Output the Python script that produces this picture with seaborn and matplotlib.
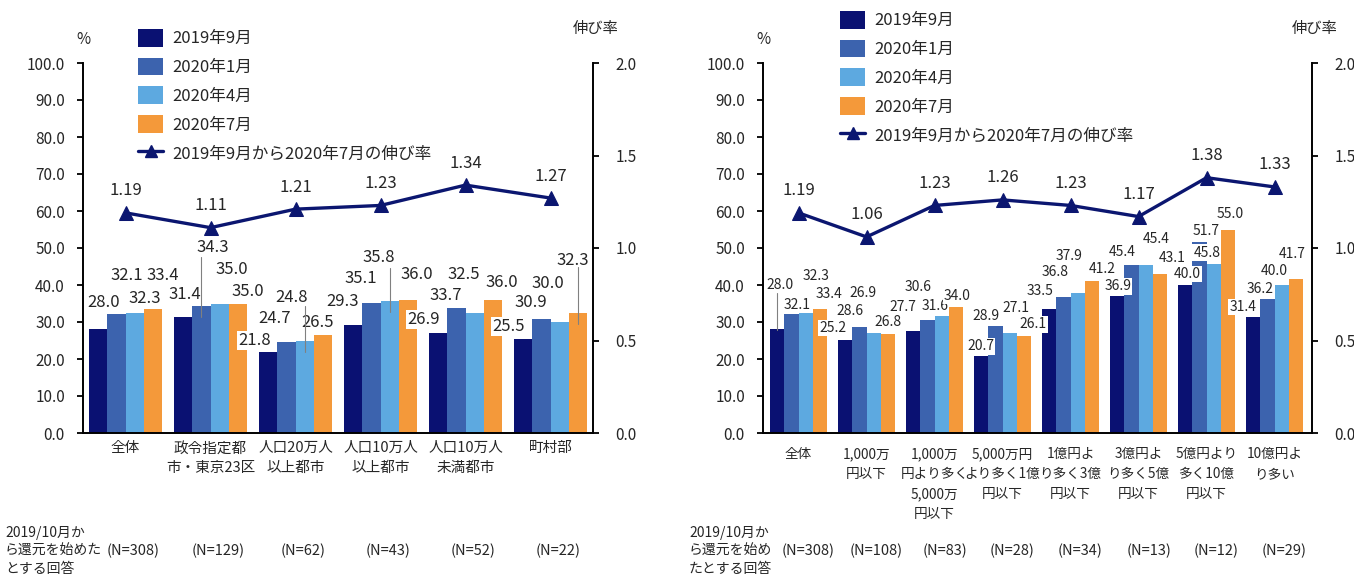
import numpy as np
import pandas as pd
import matplotlib
matplotlib.use("Agg")
import matplotlib.pyplot as plt
import matplotlib.transforms as mtransforms
from matplotlib.patches import Patch
from matplotlib.lines import Line2D
from matplotlib.ticker import FormatStrFormatter, MultipleLocator
import seaborn as sns

# ---- data -------------------------------------------------------------
periods = ["2019年9月", "2020年1月", "2020年4月", "2020年7月"]
ratio_name = "2019年9月から2020年7月の伸び率"

city_cats = ["全体", "政令指定都\n市・東京23区", "人口20万人\n以上都市",
             "人口10万人\n以上都市", "人口10万人\n未満都市", "町村部"]
city_sep19 = [28.0, 31.4, 21.8, 29.3, 26.9, 25.5]
city_jan20 = [32.1, 34.3, 24.7, 35.1, 33.7, 30.9]
city_apr20 = [32.3, 35.0, 24.8, 35.8, 32.5, 30.0]
city_jul20 = [33.4, 35.0, 26.5, 36.0, 36.0, 32.3]
city_ratio = [1.19, 1.11, 1.21, 1.23, 1.34, 1.27]
city_n = [308, 129, 62, 43, 52, 22]

asset_cats = ["全体", "1,000万\n円以下", "1,000万\n円より多く\n5,000万\n円以下",
              "5,000万円\nより多く1億\n円以下", "1億円よ\nり多く3億\n円以下",
              "3億円よ\nり多く5億\n円以下", "5億円より\n多く10億\n円以下", "10億円よ\nり多い"]
asset_sep19 = [28.0, 25.2, 27.7, 20.7, 33.5, 36.9, 40.0, 31.4]
asset_jan20 = [32.1, 28.6, 30.6, 28.9, 36.8, 45.4, 51.7, 36.2]
asset_apr20 = [32.3, 26.9, 31.6, 27.1, 37.9, 45.4, 45.8, 40.0]
asset_jul20 = [33.4, 26.8, 34.0, 26.1, 41.2, 43.1, 55.0, 41.7]
asset_ratio = [1.19, 1.06, 1.23, 1.26, 1.23, 1.17, 1.38, 1.33]
asset_n = [308, 108, 83, 28, 34, 13, 12, 29]

note_left = "2019/10月か\nら還元を始めた\nとする回答"
note_right = "2019/10月か\nら還元を始め\nたとする回答"

# ---- styling ------------------------------------------------------------
sns.set_style("white")
plt.rcParams["font.family"] = ["Noto Sans CJK JP", "DejaVu Sans"]

colors = ["#0A1172", "#3C63AE", "#5DA9E0", "#F4993A"]
line_color = "#0B1670"
palette = dict(zip(periods, colors))

W, H = 1354, 574
fig = plt.figure(figsize=(W / 100, H / 100), dpi=100)

# value-label placement (pixel offsets from the top centre of each bar),
# indexed [period][category]
city_label_shift = [
    [(5, 27), (1, 22), (-14, 12), (-11, 23), (-15, 14), (-15, 12)],
    [(10, 39), (11, 59), (-12, 23), (-11, 25), (-11, 13), (-11, 16)],
    [(10, 15), (12, 34), (-13, 44), (-11, 43), (-11, 38), (-12, 39)],
    [(10, 34), (10, 12), (-5, 12), (9, 25), (9, 17), (-5, 53)],
]
asset_label_shift = [
    [(3, 44), (-12, 12), (-10, 24), (0, 10), (-9, 18), (1, 10), (2, 11), (-10, 10)],
    [(6, 9), (-9, 16), (-9, 33), (-9, 10), (-8, 25), (-9, 13), (7, 11), (-7, 10)],
    [(10, 37), (-11, 40), (-7, 10), (6, 25), (-9, 37), (10, 26), (-7, 11), (-8, 14)],
    [(9, 15), (0, 12), (1, 11), (9, 12), (10, 12), (12, 16), (2, 16), (-4, 25)],
]
# leader lines: (period, category) -> (gap below label centre, depth into bar) in px
city_leaders = {(1, 1): (10, 11), (2, 2): (9, 11), (2, 3): (10, 11), (3, 5): (7, 11)}
asset_leaders = {(0, 0): (8, 1)}


def to_fig(x_px, y_px):
    return fig.transFigure.inverted().transform((x_px, y_px))


def draw_panel(rect, cats, series, ratios, ns, xlim, value_fs, tick_fs,
               tick_ls, tick_pad, shifts, leaders, legend_xy, note, note_x,
               n_shift):
    ax = fig.add_axes([rect[0] / W, (H - rect[3]) / H,
                       (rect[2] - rect[0]) / W, (rect[3] - rect[1]) / H])
    df = pd.DataFrame({
        "category": np.tile(cats, len(periods)),
        "period": np.repeat(periods, len(cats)),
        "value": np.concatenate(series),
    })
    sns.barplot(data=df, x="category", y="value", hue="period", order=cats,
                hue_order=periods, palette=palette, width=0.85, saturation=1,
                edgecolor="none", linewidth=0, legend=False, ax=ax, zorder=2)
    ax.set_xlim(*xlim)
    ax.set_ylim(0, 100)
    ax.yaxis.set_major_locator(MultipleLocator(10))
    ax.yaxis.set_major_formatter(FormatStrFormatter("%.1f"))
    ax.set_xlabel("")
    ax.set_ylabel("")
    ax.set_xticks(range(len(cats)))
    ax.set_xticklabels(cats, fontsize=tick_fs, linespacing=tick_ls)
    ax.tick_params(axis="x", length=0, pad=tick_pad)
    ax.tick_params(axis="y", direction="out", length=4, width=1.3, pad=9,
                   labelsize=11, left=True, color="black")
    for s in ["top", "right"]:
        ax.spines[s].set_visible(False)
    for s in ["left", "bottom"]:
        ax.spines[s].set_color("black")
        ax.spines[s].set_linewidth(1.4)

    ax2 = ax.twinx()
    sns.lineplot(x=np.arange(len(cats)), y=ratios, ax=ax2, color=line_color,
                 linewidth=2.4, marker="^", markersize=10,
                 markeredgecolor=line_color, zorder=3)
    ax2.set_xlim(*xlim)
    ax2.set_ylim(0, 2)
    ax2.yaxis.set_major_locator(MultipleLocator(0.5))
    ax2.yaxis.set_major_formatter(FormatStrFormatter("%.1f"))
    ax2.set_ylabel("")
    ax2.tick_params(axis="y", direction="out", length=4, width=1.3, pad=12,
                    labelsize=11, right=True, color="black")
    for s in ["top", "left", "bottom"]:
        ax2.spines[s].set_visible(False)
    ax2.spines["right"].set_color("black")
    ax2.spines["right"].set_linewidth(1.4)
    for i, r in enumerate(ratios):
        ax2.annotate(f"{r:.2f}", xy=(i, r), xytext=(0, 22),
                     textcoords="offset pixels", ha="center", va="center",
                     fontsize=12)

    # value labels on the bars
    for h, cont in enumerate(ax.containers):
        for c, bar in enumerate(cont):
            v = bar.get_height()
            bx = bar.get_x() + bar.get_width() / 2
            dx, dy = shifts[h][c]
            ax.annotate(f"{v:.1f}", xy=(bx, v), xytext=(dx, dy),
                        textcoords="offset pixels", ha="center", va="center",
                        fontsize=value_fs, zorder=5,
                        bbox=dict(boxstyle="square,pad=0.08", fc="white",
                                  ec="none"))
            if (h, c) in leaders:
                gap, depth = leaders[(h, c)]
                px, py = ax.transData.transform((bx, v))
                p0 = to_fig(px, py + dy - gap)
                p1 = to_fig(px, py - depth)
                fig.add_artist(Line2D([p0[0], p1[0]], [p0[1], p1[1]],
                                      color="#808080", linewidth=0.8,
                                      zorder=6))

    # axis titles
    fig.text(rect[0] / W, 1 - 39 / H, "%", ha="center", va="center",
             fontsize=11)
    fig.text((rect[2] + 3) / W, 1 - 29 / H, "伸び率", ha="center",
             va="center", fontsize=11)

    # legend
    handles = [Patch(facecolor=col, edgecolor="none") for col in colors]
    handles.append(Line2D([], [], color=line_color, linewidth=2.4, marker="^",
                          markersize=9, markeredgecolor=line_color))
    ax2.legend(handles, periods + [ratio_name], loc="upper left",
               bbox_to_anchor=(legend_xy[0] / W, 1 - legend_xy[1] / H),
               bbox_transform=fig.transFigure, frameon=False, fontsize=12,
               handlelength=1.5, handleheight=1.25, handletextpad=0.55,
               labelspacing=0.62, borderpad=0, borderaxespad=0)

    # sample sizes under the categories
    ny = 1 - 551 / H
    fig.text(note_x / W, ny, note, ha="left", va="center", fontsize=10,
             linespacing=1.35)
    trans = mtransforms.offset_copy(
        mtransforms.blended_transform_factory(ax.transData, fig.transFigure),
        fig=fig, x=n_shift, y=0, units="dots")
    for i, n in enumerate(ns):
        ax.text(i, ny, f"(N={n})", transform=trans, ha="center", va="center",
                fontsize=10.5)
    return ax, ax2


draw_panel((83, 63, 593, 433), city_cats,
           [city_sep19, city_jan20, city_apr20, city_jul20], city_ratio, city_n,
           (-0.5, 5.5), 12, 10.5, 1.5, 6, city_label_shift, city_leaders,
           (138, 29), note_left, 5, 8)
draw_panel((763, 63, 1312, 433), asset_cats,
           [asset_sep19, asset_jan20, asset_apr20, asset_jul20], asset_ratio,
           asset_n, (-0.522, 7.55), 10, 9.8, 1.55, 10, asset_label_shift,
           asset_leaders, (840, 11), note_right, 689, 10)

fig.savefig("out.png", dpi=100, facecolor="white")
